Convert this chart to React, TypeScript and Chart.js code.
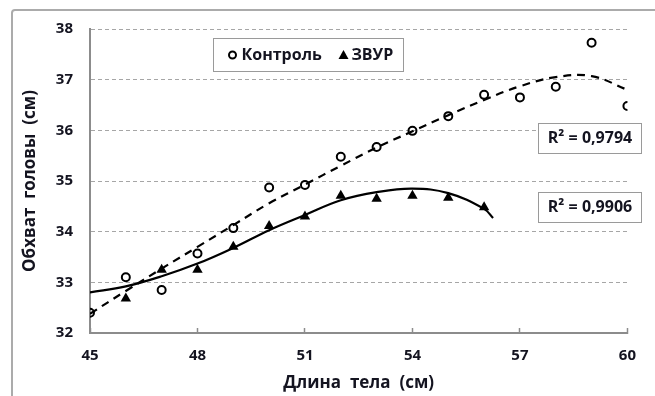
import React, { useEffect, useRef } from "react";
import { Chart, registerables } from "chart.js";
Chart.register(...registerables);

// ---- data ----
const bodyLength = [45, 46, 47, 48, 49, 50, 51, 52, 53, 54, 55, 56, 57, 58, 59, 60];
const controlValues = [32.4, 33.1, 32.85, 33.57, 34.07, 34.87, 34.92, 35.48, 35.67, 35.99, 36.28, 36.7, 36.65, 36.86, 37.73, 36.48];
const zvurLength = [46, 47, 48, 49, 50, 51, 52, 53, 54, 55, 56];
const zvurValues = [32.68, 33.25, 33.25, 33.7, 34.11, 34.3, 34.71, 34.65, 34.71, 34.67, 34.48];
const controlTrendX = [45, 46, 47, 48, 49, 50, 51, 52, 53, 54, 55, 56, 57, 58, 59, 60];
const controlTrendY = [32.38, 32.83, 33.27, 33.7, 34.13, 34.56, 34.93, 35.3, 35.66, 35.98, 36.3, 36.6, 36.87, 37.05, 37.07, 36.8];
const zvurTrendX = [45, 46, 47, 48, 49, 50, 51, 52, 53, 54, 55, 56, 56.25];
const zvurTrendY = [32.8, 32.92, 33.12, 33.37, 33.68, 34.03, 34.33, 34.62, 34.78, 34.85, 34.76, 34.45, 34.27];
const xTicks = [45, 48, 51, 54, 57, 60];
const yTicks = [32, 33, 34, 35, 36, 37, 38];
const seriesNames = ["Контроль", "ЗВУР"];
const r2Labels = ["R² = 0,9794", "R² = 0,9906"];
const xTitle = "Длина  тела  (см)";
const yTitle = "Обхват  головы  (см)";

const FONT = "'Open Sans', 'Noto Sans', sans-serif";
const TEXT = "#141420";
const AXIS = "#8c8c8c";

const overlayPlugin = {
  id: "overlay",
  afterDraw(chart: any) {
    const ctx = chart.ctx as CanvasRenderingContext2D;
    const a = chart.chartArea;
    ctx.save();
    // legend box
    const lx = a.left + 123.5, ly = a.top + 9.5, lw = 190, lh = 33;
    ctx.fillStyle = "#fff";
    ctx.fillRect(lx, ly, lw, lh);
    ctx.strokeStyle = "#9a9a9a";
    ctx.lineWidth = 1;
    ctx.strokeRect(lx, ly, lw, lh);
    const cy = ly + lh / 2;
    ctx.font = `bold 16px ${FONT}`;
    ctx.textBaseline = "middle";
    ctx.fillStyle = TEXT;
    // circle marker
    ctx.beginPath();
    ctx.arc(lx + 19, cy, 3.5, 0, Math.PI * 2);
    ctx.strokeStyle = "#000";
    ctx.lineWidth = 2;
    ctx.stroke();
    ctx.textAlign = "left";
    ctx.fillText(seriesNames[0], lx + 28, cy);
    // triangle marker
    const tx = lx + 130;
    ctx.beginPath();
    ctx.moveTo(tx, cy - 5);
    ctx.lineTo(tx + 5, cy + 4);
    ctx.lineTo(tx - 5, cy + 4);
    ctx.closePath();
    ctx.fillStyle = "#000";
    ctx.fill();
    ctx.fillStyle = TEXT;
    ctx.fillText(seriesNames[1], tx + 8, cy);

    // R² boxes
    const boxes = [
      { x: a.left + 448.5, y: a.top + 94.5 },
      { x: a.left + 448.5, y: a.top + 163.5 },
    ];
    boxes.forEach((b, i) => {
      ctx.fillStyle = "#fff";
      ctx.fillRect(b.x, b.y, 103, 30);
      ctx.strokeStyle = "#9a9a9a";
      ctx.lineWidth = 1;
      ctx.strokeRect(b.x, b.y, 103, 30);
      ctx.fillStyle = TEXT;
      ctx.textAlign = "center";
      ctx.font = `bold 16px ${FONT}`;
      ctx.fillText(r2Labels[i], b.x + 51.5, b.y + 15);
    });
    ctx.restore();
  },
};

export default function App() {
  const ref = useRef<HTMLCanvasElement | null>(null);
  useEffect(() => {
    if (!ref.current) return;
    const tickFont = { family: FONT, size: 15, weight: "bold" as const };
    const titleFont = { family: FONT, size: 17, weight: "bold" as const };
    const chart = new Chart(ref.current, {
      type: "scatter",
      data: {
        datasets: [
          {
            label: seriesNames[0],
            data: bodyLength.map((x, i) => ({ x, y: controlValues[i] })),
            pointStyle: "circle",
            pointRadius: 4,
            pointBorderWidth: 2,
            pointBorderColor: "#000",
            pointBackgroundColor: "rgba(0,0,0,0)",
            showLine: false,
          },
          {
            label: seriesNames[1],
            data: zvurLength.map((x, i) => ({ x, y: zvurValues[i] })),
            pointStyle: "triangle",
            pointRadius: 6,
            pointBorderWidth: 0,
            pointBorderColor: "#000",
            pointBackgroundColor: "#000",
            showLine: false,
          },
          {
            label: "trend1",
            data: controlTrendX.map((x, i) => ({ x, y: controlTrendY[i] })),
            showLine: true,
            borderColor: "#000",
            borderWidth: 2.2,
            borderDash: [8, 6],
            pointRadius: 0,
            tension: 0.4,
            fill: false,
          },
          {
            label: "trend2",
            data: zvurTrendX.map((x, i) => ({ x, y: zvurTrendY[i] })),
            showLine: true,
            borderColor: "#000",
            borderWidth: 2.2,
            pointRadius: 0,
            tension: 0.4,
            fill: false,
          },
        ],
      },
      options: {
        animation: false,
        responsive: false,
        layout: { padding: { top: 29, right: 17, left: 0, bottom: 0 } },
        plugins: { legend: { display: false }, tooltip: { enabled: false } },
        scales: {
          x: {
            type: "linear",
            min: 45,
            max: 60,
            afterBuildTicks: (s: any) => {
              s.ticks = xTicks.map((v) => ({ value: v }));
            },
            afterFit: (s: any) => {
              s.height = 63;
            },
            ticks: { font: tickFont, color: TEXT, padding: 19, maxRotation: 0, autoSkip: false },
            grid: {
              display: true,
              drawOnChartArea: false,
              drawTicks: true,
              tickLength: -5,
              tickColor: AXIS,
              tickWidth: 1.5,
            },
            border: { display: true, color: AXIS, width: 2 },
            title: { display: true, text: xTitle, font: titleFont, color: TEXT, padding: { top: 3, bottom: 3 } },
          },
          y: {
            type: "linear",
            min: 32,
            max: 38,
            afterBuildTicks: (s: any) => {
              s.ticks = yTicks.map((v) => ({ value: v }));
            },
            afterFit: (s: any) => {
              s.width = 90;
            },
            ticks: { font: tickFont, color: TEXT, padding: 17 },
            grid: { display: true, drawTicks: false, color: "#a6a6a6", lineWidth: 1 },
            border: { display: true, color: AXIS, width: 2, dash: [4, 3] },
            title: { display: true, text: yTitle, font: titleFont, color: TEXT, padding: { top: 20, bottom: 20 } },
          },
        },
      },
      plugins: [overlayPlugin],
    });
    return () => chart.destroy();
  }, []);

  return (
    <div style={{ position: "fixed", left: 0, top: 0, width: 655, height: 396, overflow: "hidden", background: "#fff" }}>
      <div
        style={{
          position: "absolute",
          left: 11,
          top: 9,
          width: 700,
          height: 500,
          border: "2px solid #ababab",
          borderRadius: 4,
          boxSizing: "border-box",
        }}
      />
      <canvas ref={ref} width={655} height={396} style={{ position: "absolute", left: 0, top: 0, width: 655, height: 396 }} />
    </div>
  );
}
